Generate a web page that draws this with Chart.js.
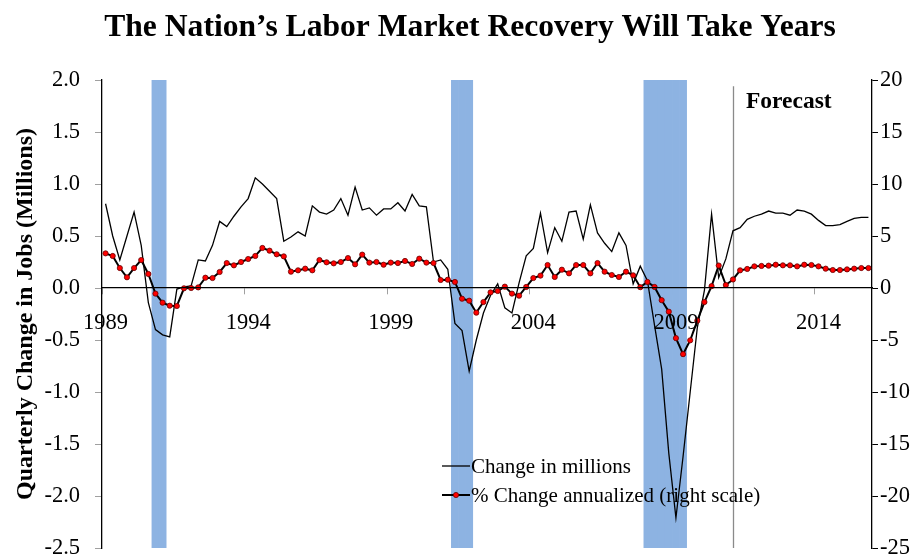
<!DOCTYPE html>
<html>
<head>
<meta charset="utf-8">
<title>The Nation’s Labor Market Recovery Will Take Years</title>
<script src="https://cdn.jsdelivr.net/npm/chart.js@4.4.1/dist/chart.umd.min.js"></script>
<style>
  html, body { margin: 0; padding: 0; background: #ffffff; }
  #wrap { width: 919px; height: 557px; }
</style>
</head>
<body>
<div id="wrap"><canvas id="jobsChart" width="919" height="557"></canvas></div>
<script>
// Quarterly job change, 1989Q1 - 2015Q4 (forecast from 2011Q1)
const years = [1989, 1990, 1991, 1992, 1993, 1994, 1995, 1996, 1997, 1998,
  1999, 2000, 2001, 2002, 2003, 2004, 2005, 2006, 2007, 2008,
  2009, 2010, 2011, 2012, 2013, 2014, 2015];
const quarters = years.flatMap((y) => ["Q1", "Q2", "Q3", "Q4"].map((q) => y + q));

const tickLabels = ["1989", "1994", "1999", "2004", "2009", "2014"];
const tickEvery = 20;

// change in millions (left scale)
const changeMillions = [
  0.81, 0.50, 0.27, 0.50, 0.73, 0.41, -0.14, -0.40, -0.45, -0.47,
  -0.01, 0.01, 0.02, 0.27, 0.26, 0.41, 0.64, 0.59, 0.69, 0.78,
  0.86, 1.06, 1.00, 0.93, 0.86, 0.45, 0.49, 0.54, 0.50, 0.79,
  0.73, 0.71, 0.75, 0.86, 0.70, 0.97, 0.75, 0.77, 0.70, 0.76,
  0.76, 0.82, 0.74, 0.90, 0.79, 0.78, 0.25, 0.27, 0.18, -0.34,
  -0.41, -0.80, -0.50, -0.24, -0.07, 0.04, -0.19, -0.24, 0.05, 0.31,
  0.38, 0.72, 0.34, 0.58, 0.45, 0.73, 0.74, 0.47, 0.80, 0.53,
  0.43, 0.35, 0.53, 0.41, 0.04, 0.21, 0.07, -0.36, -0.78, -1.59,
  -2.21, -1.62, -1.00, -0.38, -0.02, 0.71, 0.10, 0.28, 0.55, 0.58,
  0.66, 0.69, 0.71, 0.74, 0.72, 0.72, 0.70, 0.75, 0.74, 0.71,
  0.65, 0.60, 0.60, 0.61, 0.64, 0.67, 0.68, 0.68
];

// % change annualized (right scale)
const changePct = [
  3.33, 3.08, 1.92, 1.03, 1.92, 2.69, 1.35, -0.54, -1.41, -1.70,
  -1.73, -0.03, 0.00, 0.06, 0.99, 0.96, 1.54, 2.40, 2.18, 2.50,
  2.79, 3.08, 3.85, 3.59, 3.24, 3.04, 1.57, 1.70, 1.86, 1.70,
  2.69, 2.47, 2.37, 2.50, 2.88, 2.28, 3.21, 2.44, 2.50, 2.24,
  2.44, 2.40, 2.60, 2.31, 2.82, 2.44, 2.40, 0.77, 0.80, 0.58,
  -1.03, -1.22, -2.37, -1.35, -0.42, -0.29, 0.13, -0.54, -0.74, 0.10,
  0.96, 1.19, 2.21, 1.06, 1.76, 1.41, 2.21, 2.21, 1.41, 2.40,
  1.57, 1.25, 1.06, 1.57, 1.22, 0.08, 0.58, 0.10, -1.17, -2.28,
  -4.82, -6.36, -5.03, -3.14, -1.35, 0.18, 2.16, 0.29, 0.82, 1.70,
  1.83, 2.08, 2.12, 2.15, 2.24, 2.18, 2.18, 2.08, 2.24, 2.21,
  2.08, 1.86, 1.73, 1.73, 1.79, 1.86, 1.92, 1.92
];

const recessionQuarters = [
  "1990Q4", "1991Q1",
  "2001Q2", "2001Q3", "2001Q4",
  "2008Q1", "2008Q2", "2008Q3", "2008Q4", "2009Q1", "2009Q2"
];

const forecastStart = "2011Q1";
const forecastTop = 1.94;

const leftTicks = { min: -2.5, max: 2.0, step: 0.5 };
const rightTicks = { min: -25, max: 20, step: 5 };

const FONT = "'Liberation Serif', 'Times New Roman', Times, serif";

const recessionFlags = quarters.map((q) => (recessionQuarters.includes(q) ? 1 : null));

function noEndPadding(scale) {
  scale.paddingTop = 0;
  scale.paddingBottom = 0;
}

const textPlugin = {
  id: "chartTexts",
  beforeDatasetsDraw(chart) {
    const { ctx, chartArea, scales } = chart;
    const x = Math.round(scales.x.getPixelForValue(quarters.indexOf(forecastStart))) + 0.5;

    ctx.save();
    ctx.strokeStyle = "#8a8a8a";
    ctx.lineWidth = 1.3;
    ctx.beginPath();
    ctx.moveTo(x, scales.y.getPixelForValue(forecastTop));
    ctx.lineTo(x, chartArea.bottom);
    ctx.stroke();
    ctx.restore();
  },
  afterDraw(chart) {
    const { ctx, chartArea, scales } = chart;
    const forecastX = scales.x.getPixelForValue(quarters.indexOf(forecastStart));

    ctx.save();
    ctx.fillStyle = "#000000";
    ctx.textBaseline = "alphabetic";

    // title
    ctx.textAlign = "center";
    ctx.font = "bold 31.6px " + FONT;
    ctx.fillText("The Nation’s Labor Market Recovery Will Take Years", 470, 36);

    // forecast label
    ctx.textAlign = "left";
    ctx.font = "bold 23.5px " + FONT;
    ctx.fillText("Forecast", forecastX + 13, chartArea.top + 28);

    // legend
    const lx = chartArea.left + 340;
    const ly = [466, 495];
    ctx.font = "21px " + FONT;

    ctx.strokeStyle = "#000000";
    ctx.lineWidth = 1.3;
    ctx.beginPath();
    ctx.moveTo(lx, ly[0]);
    ctx.lineTo(lx + 28, ly[0]);
    ctx.stroke();
    ctx.fillText("Change in millions", lx + 29, ly[0] + 7);

    ctx.lineWidth = 2;
    ctx.beginPath();
    ctx.moveTo(lx, ly[1]);
    ctx.lineTo(lx + 28, ly[1]);
    ctx.stroke();
    ctx.beginPath();
    ctx.arc(lx + 14, ly[1], 2.6, 0, Math.PI * 2);
    ctx.fillStyle = "#ff0000";
    ctx.fill();
    ctx.lineWidth = 0.8;
    ctx.strokeStyle = "#660000";
    ctx.stroke();
    ctx.fillStyle = "#000000";
    ctx.fillText("% Change annualized (right scale)", lx + 29, ly[1] + 7);

    ctx.restore();
  }
};

new Chart(document.getElementById("jobsChart"), {
  data: {
    labels: quarters,
    datasets: [
      {
        type: "line",
        label: "% Change annualized (right scale)",
        data: changePct,
        yAxisID: "y2",
        borderColor: "#000000",
        borderWidth: 2,
        tension: 0,
        pointRadius: 2.6,
        pointBorderWidth: 0.8,
        pointBackgroundColor: "#ff0000",
        pointBorderColor: "#660000",
        order: 1
      },
      {
        type: "line",
        label: "Change in millions",
        data: changeMillions,
        yAxisID: "y",
        borderColor: "#000000",
        borderWidth: 1.3,
        tension: 0,
        pointRadius: 0,
        order: 2
      },
      {
        type: "bar",
        label: "Recession",
        data: recessionFlags,
        yAxisID: "yBar",
        backgroundColor: "#8db3e2",
        borderWidth: 0,
        barPercentage: 1,
        categoryPercentage: 1,
        order: 3
      }
    ]
  },
  options: {
    responsive: false,
    animation: false,
    devicePixelRatio: 1,
    layout: {
      padding: { top: 80, bottom: 9, left: 0, right: 0 }
    },
    plugins: {
      legend: { display: false },
      title: { display: false },
      tooltip: { enabled: false }
    },
    scales: {
      x: {
        type: "category",
        position: { y: 0 },
        offset: true,
        afterFit: (scale) => { scale.height = 0; },
        border: { display: true, color: "#000000", width: 1.3, z: 1 },
        grid: {
          offset: true,
          drawOnChartArea: false,
          drawTicks: true,
          tickLength: 6,
          color: (context) => (context.index % tickEvery === 0 ? "#a0a0a0" : "rgba(0,0,0,0)")
        },
        ticks: {
          autoSkip: false,
          maxRotation: 0,
          minRotation: 0,
          padding: 16,
          z: 1,
          color: "#000000",
          font: { family: FONT, size: 22.5 },
          callback: (value, index) => (index % tickEvery === 0 ? tickLabels[index / tickEvery] : "")
        }
      },
      y: {
        position: "left",
        min: leftTicks.min,
        max: leftTicks.max,
        afterFit: (scale) => { scale.width = 102; noEndPadding(scale); },
        border: { display: true, color: "#000000", width: 1.3 },
        grid: {
          drawOnChartArea: false,
          drawTicks: true,
          tickLength: 7,
          color: "#a0a0a0"
        },
        ticks: {
          stepSize: leftTicks.step,
          padding: 15,
          color: "#000000",
          font: { family: FONT, size: 22.5 },
          callback: (value) => value.toFixed(1)
        },
        title: {
          display: true,
          text: "Quarterly Change in Jobs (Millions)",
          color: "#000000",
          padding: { top: 11, bottom: 0 },
          font: { family: FONT, size: 24, weight: "bold" }
        }
      },
      y2: {
        position: "right",
        min: rightTicks.min,
        max: rightTicks.max,
        afterFit: (scale) => { scale.width = 47; noEndPadding(scale); },
        border: { display: true, color: "#000000", width: 1.3 },
        grid: {
          drawOnChartArea: false,
          drawTicks: true,
          tickLength: 6,
          color: "#000000"
        },
        ticks: {
          stepSize: rightTicks.step,
          padding: 2,
          color: "#000000",
          font: { family: FONT, size: 22.5 }
        }
      },
      yBar: {
        display: false,
        min: 0,
        max: 1
      }
    }
  },
  plugins: [textPlugin]
});
</script>
</body>
</html>
